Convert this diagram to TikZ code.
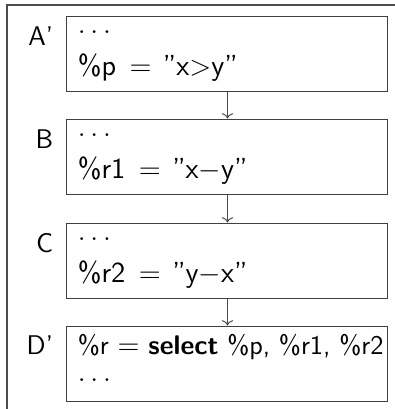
\documentclass[tikz,border=0pt]{standalone}
\usepackage{amsmath,amssymb}
\usepackage{xcolor}
\usepackage{tikz}
\usetikzlibrary{arrows.meta,positioning}

\begin{document}
\begin{tikzpicture}[x=0.5pt,y=-0.5pt,
  blk/.style={draw=black!75,line width=0.5pt,minimum width=160.5pt,minimum height=37.5pt,inner sep=0pt},
  txt/.style={anchor=base west,inner sep=0pt,font=\fontsize{13.5}{16}\sffamily},
  big/.style={txt,font=\fontsize{14.5}{17}\sffamily},
  lbl/.style={anchor=base east,inner sep=0pt,font=\fontsize{13.5}{16}\sffamily},
  ar/.style={->,draw=black!70,line width=0.5pt}]
\useasboundingbox (0,0) rectangle (395,409);
\draw[black!70,line width=0.6pt] (7,409) -- (7,5) -- (395,5);
\node[blk] (a) at (227.5,53.5)  {};
\node[blk] (b) at (227.5,156.5) {};
\node[blk] (c) at (227.5,260.5) {};
\node[blk] (d) at (227.5,363.5) {};
% labels
\node[lbl] (la) at ([shift={(-13,30)}]a.north west) {A'};
\node[lbl] (lb) at ([shift={(-13,30)}]b.north west) {B};
\node[lbl] (lc) at ([shift={(-13,30)}]c.north west) {C};
\node[lbl] (ld) at ([shift={(-13,29)}]d.north west) {D'};
% contents
\node[txt] (a1) at ([shift={(11,18)}]a.north west) {$\ldots$};
\node[big] (a2) at ([shift={(11,60)}]a.north west) {\%p\hspace{2pt} $=$\hspace{1pt} ''x$>$y''};
\node[txt] (b1) at ([shift={(11,18)}]b.north west) {$\ldots$};
\node[big] (b2) at ([shift={(11,60)}]b.north west) {\%r1\hspace{2pt} $=$\hspace{1pt} ''x$-$y''};
\node[txt] (c1) at ([shift={(11,18)}]c.north west) {$\ldots$};
\node[big] (c2) at ([shift={(11,60)}]c.north west) {\%r2\hspace{2pt} $=$\hspace{1pt} ''y$-$x''};
\node[txt] (d1) at ([shift={(11,29)}]d.north west) {\%r $=$ \textbf{select} \%p, \%r1, \%r2};
\node[txt] (d2) at ([shift={(11,56)}]d.north west) {$\ldots$};
\draw[ar] (a) -- (b); \draw[ar] (b) -- (c); \draw[ar] (c) -- (d);
\end{tikzpicture}
\end{document}
